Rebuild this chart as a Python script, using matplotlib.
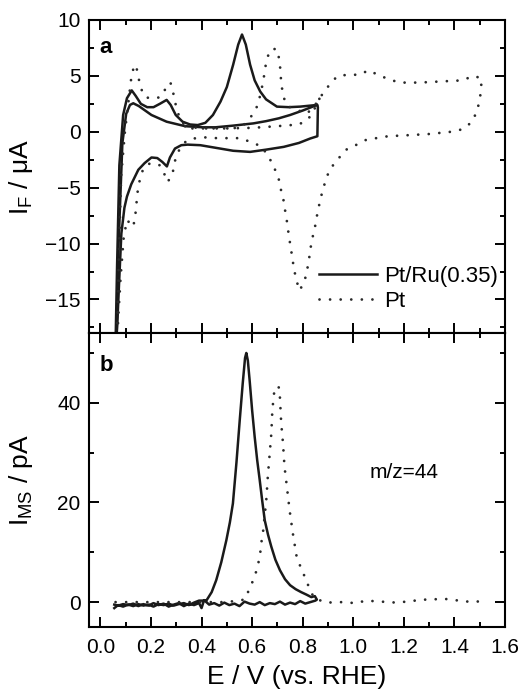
import matplotlib
matplotlib.use("Agg")
import matplotlib.pyplot as plt
from matplotlib.ticker import MultipleLocator

plt.rcParams['font.family'] = ['Liberation Sans', 'DejaVu Sans']
plt.rcParams['mathtext.fontset'] = 'custom'
plt.rcParams['mathtext.rm'] = 'Liberation Sans'
plt.rcParams['mathtext.it'] = 'Liberation Sans'
plt.rcParams['mathtext.default'] = 'regular'

# ---- panel a: cyclic voltammograms (I_F in uA) ----
# Pt/Ru(0.35), first anodic scan, vertex, cathodic scan
ru_E = [0.060, 0.066, 0.075, 0.090, 0.105, 0.124, 0.140, 0.160, 0.185, 0.210, 0.235,
        0.262, 0.278, 0.298, 0.325, 0.355, 0.385, 0.415, 0.445, 0.475, 0.500, 0.525,
        0.545, 0.560, 0.575, 0.592, 0.610, 0.632, 0.655, 0.698, 0.745, 0.790, 0.857,
        0.860, 0.858, 0.830, 0.785, 0.725, 0.655, 0.592, 0.525, 0.460, 0.395, 0.345,
        0.320, 0.295, 0.275, 0.263, 0.245, 0.225, 0.202, 0.175, 0.150, 0.122, 0.105,
        0.095, 0.083, 0.075, 0.068, 0.062]
ru_I = [-19.0, -12.0, -3.0, 1.5, 3.0, 3.7, 3.2, 2.5, 2.2, 2.2, 2.5,
        2.85, 2.4, 1.5, 0.9, 0.65, 0.6, 0.8, 1.5, 2.7, 4.0, 6.0,
        7.8, 8.7, 7.8, 6.0, 4.6, 3.6, 2.9, 2.25, 2.2, 2.25, 2.4,
        2.2, -0.4, -0.6, -1.0, -1.35, -1.6, -1.8, -1.7, -1.45, -1.2, -1.15,
        -1.2, -1.5, -2.3, -3.1, -2.7, -2.35, -2.3, -2.8, -3.4, -4.7, -5.8,
        -6.8, -9.1, -13.0, -16.6, -19.0]
# Pt/Ru(0.35), second anodic scan
ru2_E = [0.064, 0.072, 0.087, 0.102, 0.117, 0.130, 0.152, 0.202, 0.262, 0.335, 0.405,
         0.455, 0.525, 0.605, 0.655, 0.705, 0.750, 0.800, 0.857]
ru2_I = [-19.0, -10.0, -1.0, 1.6, 2.4, 2.55, 2.3, 1.5, 0.9, 0.5, 0.4,
         0.4, 0.55, 0.75, 0.95, 1.2, 1.5, 1.9, 2.4]

# Pt, first anodic scan up to 1.5 V and cathodic scan back
pt_E = [0.065, 0.072, 0.082, 0.097, 0.110, 0.122, 0.130, 0.137, 0.144, 0.152, 0.162,
        0.177, 0.197, 0.217, 0.237, 0.252, 0.264, 0.277, 0.285, 0.297, 0.312, 0.332,
        0.362, 0.402, 0.452, 0.502, 0.542, 0.572, 0.597, 0.623, 0.643, 0.656, 0.666,
        0.676, 0.688, 0.698, 0.709, 0.715, 0.722, 0.735, 0.750, 0.785, 0.814, 0.840,
        0.867, 0.888, 0.906, 0.925, 0.940, 0.979, 1.025, 1.060, 1.097, 1.140, 1.183,
        1.262, 1.345, 1.433, 1.473, 1.506,
        1.506, 1.499, 1.489, 1.466, 1.427, 1.387, 1.300, 1.222, 1.137, 1.091, 1.051,
        1.012, 0.972, 0.939, 0.906, 0.890, 0.877, 0.867, 0.858, 0.850, 0.840, 0.831,
        0.825, 0.818, 0.808, 0.788, 0.775, 0.765, 0.759, 0.752, 0.745, 0.739, 0.732,
        0.726, 0.715, 0.706, 0.689, 0.665, 0.636, 0.590, 0.550, 0.510, 0.460, 0.420,
        0.380, 0.340, 0.312, 0.295, 0.284, 0.265, 0.250, 0.235, 0.210, 0.185, 0.168,
        0.155, 0.147, 0.138, 0.130, 0.118, 0.105, 0.092, 0.080, 0.071, 0.066]
pt_I = [-19.0, -12.0, -4.0, 0.0, 2.5, 4.8, 5.6, 6.0, 5.6, 4.7, 3.8,
        3.1, 3.0, 3.0, 3.1, 3.6, 4.2, 4.4, 3.8, 2.5, 1.3, 0.6,
        0.3, 0.3, 0.3, 0.3, 0.35, 0.7, 1.4, 2.4, 4.4, 6.3, 7.0,
        7.4, 7.4, 7.4, 6.3, 4.4, 3.3, 2.4, 2.2, 1.9, 1.6, 2.1,
        3.0, 3.7, 4.2, 4.7, 5.0, 5.1, 5.1, 5.5, 5.1, 4.7, 4.4,
        4.4, 4.5, 4.6, 5.0, 4.8,
        3.8, 2.8, 1.8, 0.8, 0.2, 0.0, -0.2, -0.3, -0.4, -0.57, -0.72,
        -1.17, -1.6, -2.45, -3.4, -4.4, -5.4, -6.35, -7.3, -8.35, -9.35, -10.4,
        -11.4, -12.3, -13.3, -14.2, -13.3, -12.2, -11.3, -10.25, -9.3, -8.2, -7.3,
        -6.3, -5.3, -4.3, -3.3, -2.2, -1.3, -0.87, -0.57, -0.57, -0.57, -0.5,
        -0.55, -0.8, -1.6, -2.6, -3.9, -4.5, -3.6, -3.0, -2.8, -2.9, -3.4,
        -4.4, -5.4, -7.5, -8.5, -8.2, -7.9, -9.5, -13.0, -16.5, -19.0]
# Pt, second anodic scan (double layer region)
pt2_E = [0.335, 0.400, 0.500, 0.600, 0.700, 0.755, 0.775, 0.810, 0.835, 0.852, 0.867]
pt2_I = [0.5, 0.3, 0.3, 0.35, 0.5, 0.6, 0.6, 0.9, 1.5, 2.3, 3.0]

# ---- panel b: mass spectrometric current m/z=44 (pA) ----
ms_ru_E = [0.055, 0.070, 0.090, 0.110, 0.130, 0.150, 0.170, 0.190, 0.210, 0.230, 0.250,
           0.270, 0.290, 0.310, 0.330, 0.350, 0.370, 0.390, 0.419, 0.440, 0.458, 0.478,
           0.498, 0.512, 0.524, 0.538, 0.551, 0.563, 0.572, 0.577, 0.583, 0.590, 0.600,
           0.610, 0.620, 0.630, 0.640, 0.650, 0.663, 0.676, 0.692, 0.710, 0.730, 0.750,
           0.772, 0.794, 0.815, 0.834, 0.848, 0.856,
           0.850, 0.830, 0.810, 0.790, 0.770, 0.750, 0.730, 0.710, 0.690, 0.670, 0.650,
           0.630, 0.610, 0.590, 0.570, 0.550, 0.530, 0.510, 0.490, 0.470, 0.450, 0.430,
           0.410, 0.400, 0.390, 0.370, 0.350, 0.330, 0.310, 0.290, 0.270, 0.250, 0.230,
           0.210, 0.190, 0.170, 0.150, 0.130, 0.110, 0.090, 0.070, 0.055]
ms_ru_I = [-1.2, -0.6, -0.9, -0.5, -0.8, -0.4, -0.7, -0.5, -0.9, -0.4, -0.6,
           -0.3, -0.7, -0.4, -0.2, -0.6, -0.1, 0.3, 0.3, 2.0, 4.4, 8.0,
           12.4, 16.0, 19.8, 28.0, 36.5, 44.0, 49.0, 50.0, 48.5, 44.6, 38.5,
           33.2, 28.5, 24.5, 20.3, 16.4, 13.5, 11.1, 8.5, 6.4, 4.6, 3.4,
           2.6, 2.0, 1.5, 1.0, 1.2, 0.5,
           0.3, 0.0, -0.3, 0.2, -0.4, -0.1, -0.5, 0.1, -0.4, -0.2, -0.6,
           0.0, -0.5, -0.3, 0.1, -0.8, -0.3, -0.6, -0.1, -0.7, -0.2, -0.5,
           0.4, -1.2, -0.2, -0.6, -0.3, -0.8, -0.2, -0.5, -0.9, -0.3, -0.6,
           -0.2, -0.7, -0.4, -0.8, -0.3, -0.6, -0.4, -0.7, -0.5]
ms_pt_E = [0.060, 0.200, 0.350, 0.500, 0.570, 0.590, 0.610, 0.623, 0.632, 0.636, 0.643,
           0.656, 0.662, 0.669, 0.676, 0.680, 0.689, 0.698, 0.708, 0.715, 0.722, 0.728,
           0.738, 0.748, 0.761, 0.775, 0.791, 0.808, 0.827, 0.845, 0.893, 0.950, 1.010,
           1.050, 1.110, 1.170, 1.230, 1.270, 1.310, 1.350, 1.390, 1.430, 1.480, 1.500]
ms_pt_I = [0.0, 0.0, 0.0, 0.0, 0.5, 2.7, 5.1, 7.4, 9.8, 11.8, 14.0,
           20.5, 25.2, 29.5, 33.9, 38.6, 43.0, 43.3, 43.0, 35.9, 31.9, 27.2,
           22.9, 18.5, 13.8, 9.4, 7.1, 5.1, 2.7, 0.8, -0.1, 0.0, -0.2,
           0.3, 0.1, -0.1, 0.2, 0.5, 0.5, 0.7, 0.5, 0.2, 0.0, 0.2]

dotted = dict(color='#2a2a2a', lw=2.0, linestyle=(0, (0.01, 3.8)),
              dash_capstyle='round')
solid = dict(color='#1a1a1a', lw=1.8)

fig = plt.figure(figsize=(5.22, 6.94), dpi=100)
ax1 = fig.add_axes([0.1705, 0.5202, 0.797, 0.451])
ax2 = fig.add_axes([0.1705, 0.0965, 0.797, 0.4236])

ax1.plot(ru_E, ru_I, label='Pt/Ru(0.35)', **solid)
ax1.plot(ru2_E, ru2_I, **solid)
ax1.plot(pt_E, pt_I, label='Pt', **dotted)
ax1.plot(pt2_E, pt2_I, **dotted)

ax2.plot(ms_ru_E, ms_ru_I, **solid)
ax2.plot(ms_pt_E, ms_pt_I, **dotted)

for ax in (ax1, ax2):
    ax.set_xlim(-0.045, 1.6)
    ax.xaxis.set_major_locator(MultipleLocator(0.2))
    ax.xaxis.set_minor_locator(MultipleLocator(0.1))
    ax.tick_params(which='both', direction='in', top=True, right=True,
                   width=1.4, labelsize=15, pad=6)
    ax.tick_params(which='major', length=7)
    ax.tick_params(which='minor', length=3.5)
    for sp in ax.spines.values():
        sp.set_linewidth(1.5)

ax1.set_ylim(-18, 10)
ax1.yaxis.set_major_locator(MultipleLocator(5))
ax1.yaxis.set_minor_locator(MultipleLocator(2.5))
ax1.tick_params(labelbottom=False)

ax2.set_ylim(-5, 54)
ax2.yaxis.set_major_locator(MultipleLocator(20))
ax2.yaxis.set_minor_locator(MultipleLocator(10))
ax2.set_xticks([0.0, 0.2, 0.4, 0.6, 0.8, 1.0, 1.2, 1.4, 1.6])
ax2.set_xticklabels(['0.0', '0.2', '0.4', '0.6', '0.8', '1.0', '1.2', '1.4', '1.6'])
ax2.tick_params(axis='x', pad=8)

ax1.set_ylabel(r'I$_{F}$ / μA', fontsize=19)
ax2.set_ylabel(r'I$_{MS}$ / pA', fontsize=19)
ax1.yaxis.set_label_coords(-0.13, 0.5)
ax2.yaxis.set_label_coords(-0.13, 0.5)
ax2.set_xlabel('E / V (vs. RHE)', fontsize=19, labelpad=6)

ax1.text(0.026, 0.945, 'a', transform=ax1.transAxes, fontsize=16,
         fontweight='bold', va='top', ha='left')
ax2.text(0.026, 0.925, 'b', transform=ax2.transAxes, fontsize=16,
         fontweight='bold', va='top', ha='left')
ax2.text(1.2, 26, 'm/z=44', fontsize=15, ha='center', va='center')

ax1.legend(loc='lower right', bbox_to_anchor=(1.0, 0.045), frameon=False,
           fontsize=16, handlelength=2.6, handletextpad=0.35,
           labelspacing=0.2, borderaxespad=0.1, borderpad=0.2)

fig.savefig('out.png', dpi=100)
